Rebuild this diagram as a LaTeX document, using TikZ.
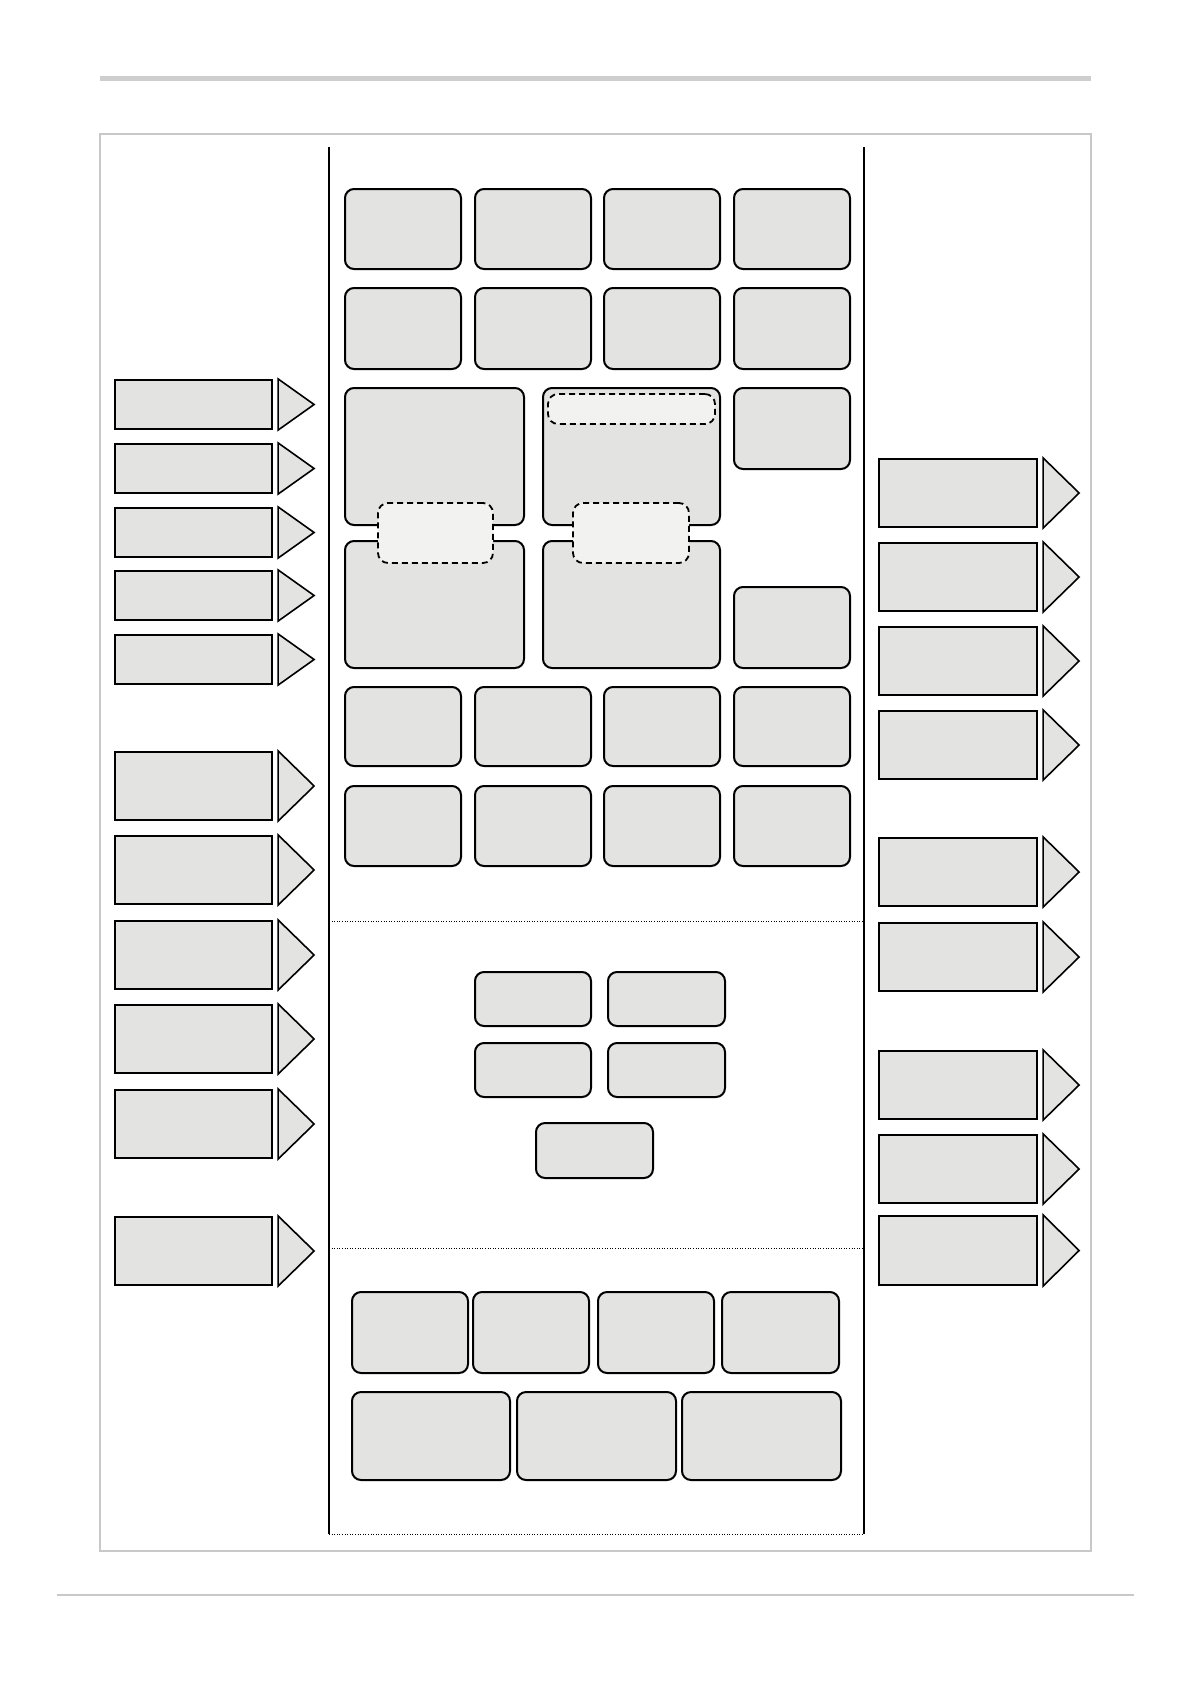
\documentclass[tikz,border=0pt]{standalone}
\usetikzlibrary{fit}
\definecolor{boxgray}{RGB}{227,227,226}
\definecolor{pillgray}{RGB}{242,242,240}
\definecolor{framegray}{RGB}{200,200,200}
\definecolor{rulegray}{RGB}{206,206,206}
\newcommand\rb[5]{\node[rbox, fit={(#2,#3) (#4,#5)}] (#1) {};}
\newcommand\pl[5]{\node[pill, fit={(#2,#3) (#4,#5)}] (#1) {};}
\newcommand\arw[5]{%
  \node[abox, fit={(#2,#3) (#4,#5)}] (#1) {};
  \draw[tri] ([xshift=5pt]#1.north east) -- ([xshift=41pt]#1.east) -- ([xshift=5pt]#1.south east) -- cycle;}
\begin{document}
\begin{tikzpicture}[x=1pt,y=-1pt,
  rbox/.style={draw, fill=boxgray, rounded corners=9pt, line width=2pt, inner sep=0pt},
  abox/.style={draw, fill=boxgray, line width=2.2pt, inner sep=0pt},
  pill/.style={draw, fill=pillgray, rounded corners=10pt, line width=1.8pt, dash pattern=on 6pt off 4pt, inner sep=0pt},
  tri/.style={draw, fill=boxgray, line width=1.6pt, line join=miter},
  sep/.style={line width=1pt, dash pattern=on 1pt off 1.6pt},
  col/.style={line width=2pt}]
\useasboundingbox[fill=white] (0,0) rectangle (1191,1684);

% page rules and frame
\draw[rulegray, line width=5pt] (100,78) -- (1091,78);
\node[draw=framegray, line width=1.8pt, inner sep=0pt, fit={(100,134) (1091,1551)}] (frame) {};
\draw[framegray, line width=2pt] (57,1595) -- (1134,1595);

% central column
\draw[col] (329,147) -- (329,1534);
\draw[col] (864,147) -- (864,1534);
\draw[sep] (329,921) -- (864,921);
\draw[sep] (329,1248) -- (864,1248);
\draw[sep] (329,1534) -- (864,1534);

% top grid
\rb{a1}{345}{189}{461}{269}
\rb{a2}{475}{189}{591}{269}
\rb{a3}{604}{189}{720}{269}
\rb{a4}{734}{189}{850}{269}
\rb{b1}{345}{288}{461}{369}
\rb{b2}{475}{288}{591}{369}
\rb{b3}{604}{288}{720}{369}
\rb{b4}{734}{288}{850}{369}
\rb{c1}{345}{388}{524}{525}
\rb{c2}{543}{388}{720}{525}
\rb{c3}{734}{388}{850}{469}
\pl{p0}{548}{394}{715}{424}
\rb{d1}{345}{541}{524}{668}
\rb{d2}{543}{541}{720}{668}
\rb{d3}{734}{587}{850}{668}
\pl{p1}{378}{503}{493}{563}
\pl{p2}{573}{503}{689}{563}
\rb{e1}{345}{687}{461}{766}
\rb{e2}{475}{687}{591}{766}
\rb{e3}{604}{687}{720}{766}
\rb{e4}{734}{687}{850}{766}
\rb{f1}{345}{786}{461}{866}
\rb{f2}{475}{786}{591}{866}
\rb{f3}{604}{786}{720}{866}
\rb{f4}{734}{786}{850}{866}

% middle section
\rb{m1}{475}{972}{591}{1026}
\rb{m2}{608}{972}{725}{1026}
\rb{m3}{475}{1043}{591}{1097}
\rb{m4}{608}{1043}{725}{1097}
\rb{m5}{536}{1123}{653}{1178}

% bottom section
\rb{g1}{352}{1292}{468}{1373}
\rb{g2}{473}{1292}{589}{1373}
\rb{g3}{598}{1292}{714}{1373}
\rb{g4}{722}{1292}{839}{1373}
\rb{h1}{352}{1392}{510}{1480}
\rb{h2}{517}{1392}{676}{1480}
\rb{h3}{682}{1392}{841}{1480}

% left arrows
\arw{l1}{115}{380}{272}{429}
\arw{l2}{115}{444}{272}{493}
\arw{l3}{115}{508}{272}{557}
\arw{l4}{115}{571}{272}{620}
\arw{l5}{115}{635}{272}{684}
\arw{l6}{115}{752}{272}{820}
\arw{l7}{115}{836}{272}{904}
\arw{l8}{115}{921}{272}{989}
\arw{l9}{115}{1005}{272}{1073}
\arw{l10}{115}{1090}{272}{1158}
\arw{l11}{115}{1217}{272}{1285}

% right arrows
\arw{r1}{879}{459}{1037}{527}
\arw{r2}{879}{543}{1037}{611}
\arw{r3}{879}{627}{1037}{695}
\arw{r4}{879}{711}{1037}{779}
\arw{r5}{879}{838}{1037}{906}
\arw{r6}{879}{923}{1037}{991}
\arw{r7}{879}{1051}{1037}{1119}
\arw{r8}{879}{1135}{1037}{1203}
\arw{r9}{879}{1216}{1037}{1285}
\end{tikzpicture}
\end{document}
